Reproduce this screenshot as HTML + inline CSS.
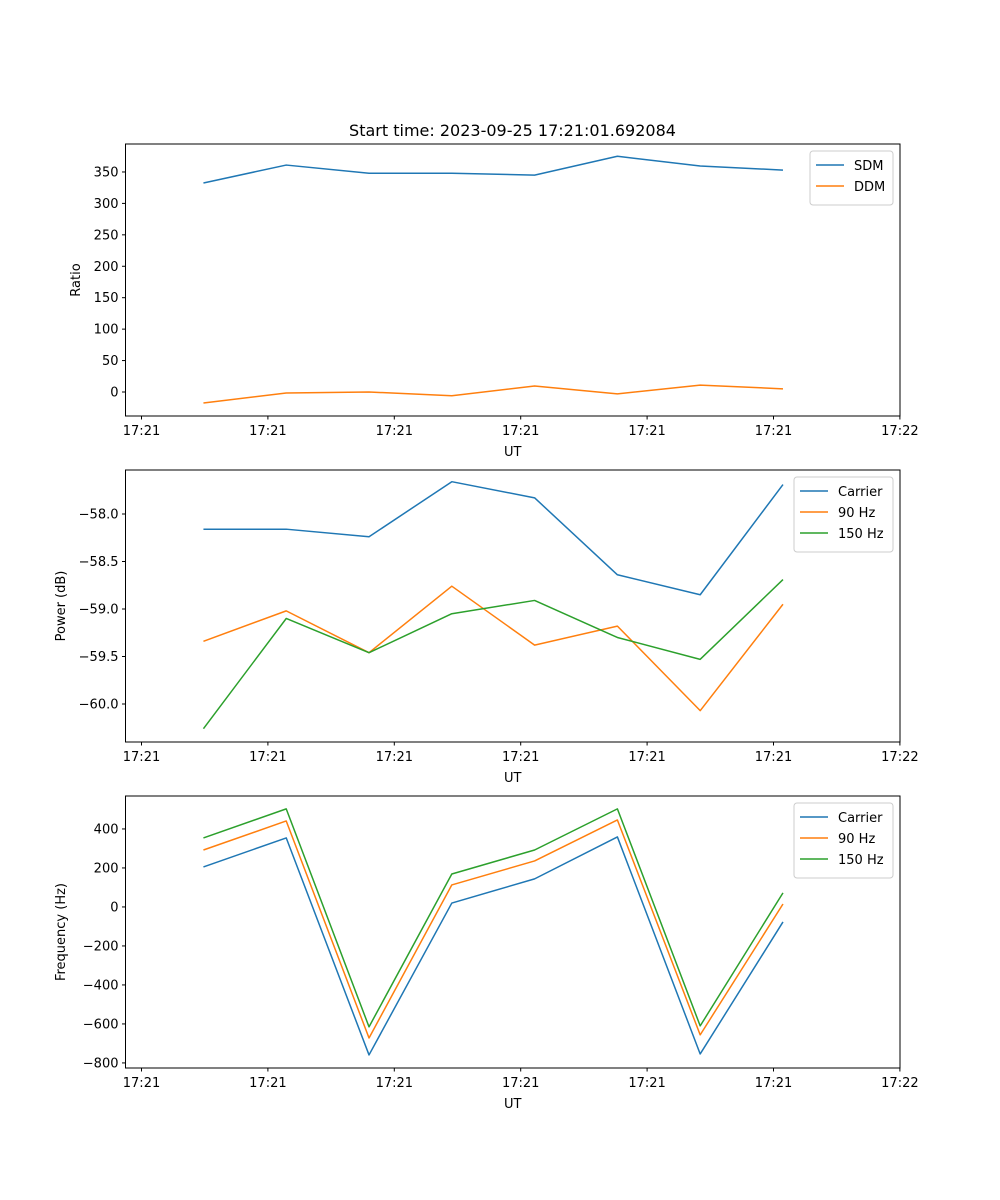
<!DOCTYPE html>
<html><head><meta charset="utf-8">
<style>
html,body{margin:0;padding:0;background:#fff;}
svg{display:block;font-family:"DejaVu Sans","Liberation Sans",sans-serif;}
</style></head>
<body>
<svg id="fig" width="1000" height="1200" viewBox="0 0 1000 1200" xmlns="http://www.w3.org/2000/svg">
<rect width="1000" height="1200" fill="#fff"/>
<text x="512.5" y="136" text-anchor="middle" font-size="16">Start time: 2023-09-25 17:21:01.692084</text>
</svg>
<script>
// shared time axis (seconds after 17:21:00)
const times = [4.9, 11.45, 18.0, 24.55, 31.1, 37.65, 44.2, 50.75];
const xTicks = [0, 10, 20, 30, 40, 50, 60];
const xTickLabels = ["17:21","17:21","17:21","17:21","17:21","17:21","17:22"];

// panel 1
const sdm = [332.5, 361, 348, 348, 345, 375, 359.5, 353];
const ddm = [-17.5, -1.6, 0, -6, 9.5, -3, 11, 5];
const yTicks1 = [0, 50, 100, 150, 200, 250, 300, 350];
// panel 2
const pCarrier = [-58.16, -58.16, -58.24, -57.66, -57.83, -58.64, -58.85, -57.69];
const p90 = [-59.34, -59.02, -59.46, -58.76, -59.38, -59.18, -60.07, -58.95];
const p150 = [-60.26, -59.10, -59.46, -59.05, -58.91, -59.30, -59.53, -58.69];
const yTicks2 = [-60.0, -59.5, -59.0, -58.5, -58.0];
// panel 3
const fCarrier = [205, 354, -759, 20, 144, 359, -754, -77];
const f90 = [292, 441, -672, 113, 236, 446, -656, 15];
const f150 = [354, 503, -615, 169, 292, 503, -610, 72];
const yTicks3 = [-800, -600, -400, -200, 0, 200, 400];

const NS = "http://www.w3.org/2000/svg";
const svg = document.getElementById("fig");
function mk(tag, attrs, parent){const e=document.createElementNS(NS,tag);for(const k in attrs)e.setAttribute(k,attrs[k]);(parent||svg).appendChild(e);return e;}
const L=125.5, R=900, x0=141.5, pxPerSec=12.64;
const xs = t => x0 + t*pxPerSec;
function fmt(v,dec){const s=v.toFixed(dec);return v<0?"\u2212"+s.slice(1):s;}

function panel(name, top, bottom, yMin, yMax, yTicks, dec, ylabel, series, legendW){
  const g = mk("g",{});
  
  
  const ys = v => bottom - (v-yMin)/(yMax-yMin)*(bottom-top);
  series.forEach(s=>{
    const pts = times.map((t,i)=>xs(t).toFixed(2)+","+ys(s.vals[i]).toFixed(2)).join(" ");
    const pl = mk("polyline",{points:pts,fill:"none",stroke:s.color,"stroke-width":1.5,"stroke-linejoin":"round"},g);
    
    
  });
  const fr = mk("rect",{x:L,y:top,width:R-L,height:bottom-top,fill:"none",stroke:"#000","stroke-width":1},g);
  
  
  xTicks.forEach((t,i)=>{
    mk("line",{x1:xs(t),x2:xs(t),y1:bottom,y2:bottom+3.5,stroke:"#000"},g);
    const tx = mk("text",{x:xs(t),y:bottom+19,"text-anchor":"middle","font-size":13},g);
    tx.textContent = xTickLabels[i];
    
    
  });
  const xl = mk("text",{x:(L+R)/2,y:bottom+40,"text-anchor":"middle","font-size":13},g);
  xl.textContent="UT";
  
  
  yTicks.forEach(v=>{
    const y=ys(v);
    mk("line",{x1:L-3.5,x2:L,y1:y,y2:y,stroke:"#000"},g);
    const tx = mk("text",{x:L-7,y:y+4.5,"text-anchor":"end","font-size":13},g);
    tx.textContent = fmt(v,dec);
    
    
  });
  const ylx = name==="ratio"?80:65;
  const yl = mk("text",{x:ylx,y:(top+bottom)/2,"text-anchor":"middle","font-size":13,transform:`rotate(-90 ${ylx} ${(top+bottom)/2})`},g);
  yl.textContent=ylabel;
  
  
  // legend
  const lx=R-7-legendW, ly=top+7, lh=12+series.length*21;
  const lg = mk("g",{},g);
  
  
  mk("rect",{x:lx,y:ly,width:legendW,height:lh,rx:3,fill:"#fff","fill-opacity":0.8,stroke:"#ccc"},lg);
  series.forEach((s,i)=>{
    const yy=ly+14+i*21;
    mk("line",{x1:lx+6,x2:lx+34,y1:yy,y2:yy,stroke:s.color,"stroke-width":1.5},lg);
    const t=mk("text",{x:lx+44,y:yy+5,"font-size":13},lg);
    t.textContent=s.label;
    
    
  });
}
const C1="#1f77b4",C2="#ff7f0e",C3="#2ca02c";
panel("ratio",144,416,-38.2,394.5,yTicks1,0,"Ratio",
  [{id:"sdm",label:"SDM",color:C1,vals:sdm},{id:"ddm",label:"DDM",color:C2,vals:ddm}],83);
panel("power",470,742,-60.4,-57.537,yTicks2,1,"Power (dB)",
  [{id:"carrier",label:"Carrier",color:C1,vals:pCarrier},{id:"90hz",label:"90 Hz",color:C2,vals:p90},{id:"150hz",label:"150 Hz",color:C3,vals:p150}],99);
panel("frequency",796,1068,-826,569,yTicks3,0,"Frequency (Hz)",
  [{id:"carrier",label:"Carrier",color:C1,vals:fCarrier},{id:"90hz",label:"90 Hz",color:C2,vals:f90},{id:"150hz",label:"150 Hz",color:C3,vals:f150}],99);
</script>
</body></html>
